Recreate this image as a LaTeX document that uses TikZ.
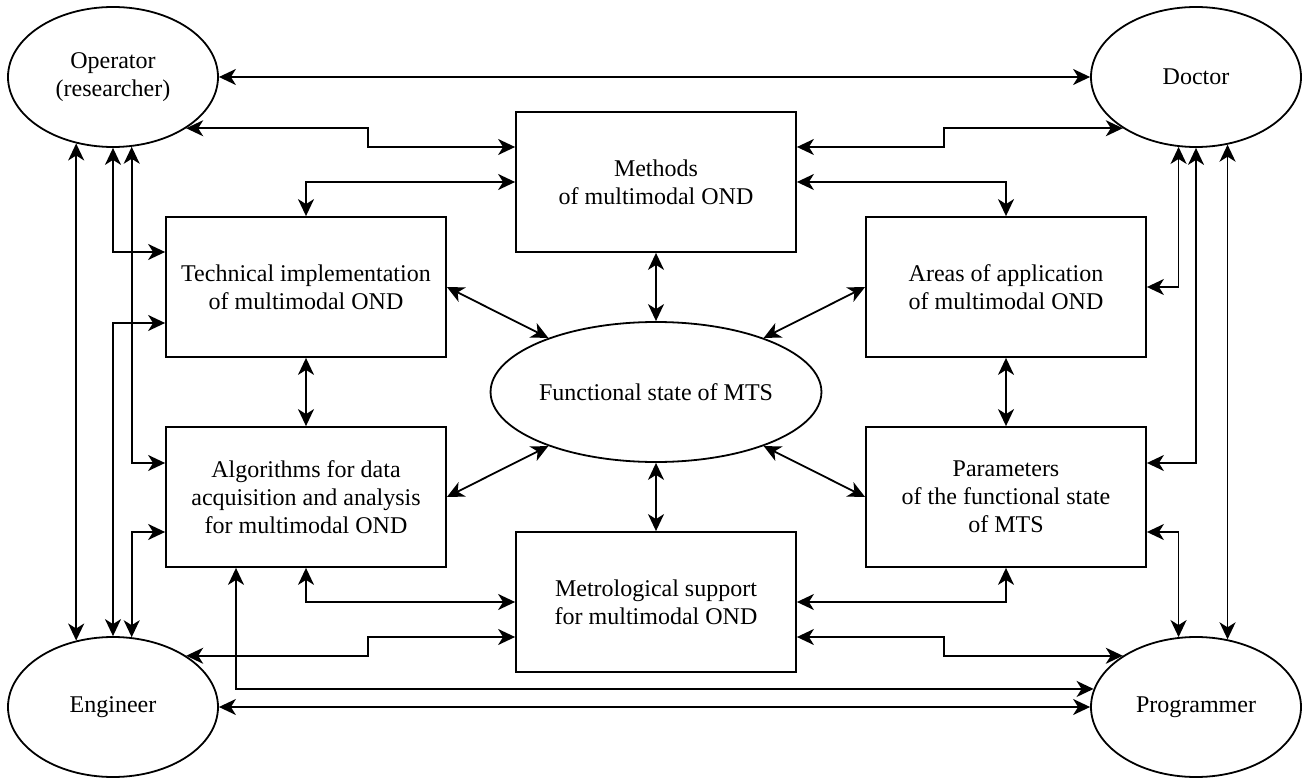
\documentclass[tikz,border=0pt]{standalone}
\usepackage{fontspec}
\setmainfont{Liberation Serif}
\usetikzlibrary{arrows.meta,shapes.geometric}
\begin{document}
\begin{tikzpicture}[x=1pt,y=-1pt,
  font=\fontsize{24}{28}\selectfont,
  line width=1.8pt,
  box/.style={draw, minimum width=280pt, minimum height=140pt, align=center, inner sep=0pt},
  oval/.style={draw, ellipse, minimum width=210pt, minimum height=140pt, align=center, inner sep=0pt},
  link/.style={{Stealth[length=17pt,width=16pt,inset=5pt]}-{Stealth[length=17pt,width=16pt,inset=5pt]}}]
\useasboundingbox (0,0) rectangle (1302,778);

% actors
\node[oval] (op)   at (113,77)   {Operator\\(researcher)};
\node[oval] (doc)  at (1196,77)  {Doctor};
\node[oval] (eng)  at (113,707)  {Engineer};
\node[oval] (prog) at (1196,707) {Programmer};

% blocks
\node[box] (mth)   at (656,182) {Methods\\of multimodal OND};
\node[box] (tech)  at (306,287) {Technical implementation\\of multimodal OND};
\node[box] (alg)   at (306,497) {Algorithms for data\\acquisition and analysis\\for multimodal OND};
\node[box] (areas) at (1006,287) {Areas of application\\of multimodal OND};
\node[box] (par)   at (1006,497) {Parameters\\of the functional state\\of MTS};
\node[box] (met)   at (656,602) {Metrological support\\for multimodal OND};
\node[draw, ellipse, minimum width=280pt, minimum height=140pt, inner sep=0pt] (func) at (656,392) {Functional state of MTS};

% top / bottom direct links
\draw[link] (op.east) -- (doc.west);
\draw[link] (eng.east) -- (prog.west);
\draw[link] (op.-119) -- (eng.119);
\draw[link] (doc.-65) -- (prog.65);

% operator side
\draw[link] (op.-35) -| (368,147) -- ([yshift=35pt]mth.west);
\draw[link] (mth.west) -| (tech.north);
\draw[link] (op.south) |- ([yshift=35pt]tech.west);
\draw[link] (op.-75) |- ([yshift=34pt]alg.west);

% engineer side
\draw[link] (eng.north) |- ([yshift=-36pt]tech.west);
\draw[link] (eng.75) |- ([yshift=-35pt]alg.west);
\draw[link] (eng.35) -| (368,637) -- ([yshift=-35pt]met.west);
\draw[link] (alg.south) |- (met.west);
\draw[link] ([xshift=-70pt]alg.south) |- (prog.170);

% doctor side
\draw[link] ([yshift=35pt]mth.east) -| (944,0 |- doc.215) -- (doc.215);
\draw[link] (mth.east) -| (areas.north);
\draw[link] (doc.-104) |- (areas.east);
\draw[link] (doc.south) |- ([yshift=34pt]par.east);

% programmer side
\draw[link] ([yshift=-35pt]par.east) -| (prog.104);
\draw[link] (met.east) -| (par.south);
\draw[link] ([yshift=-35pt]met.east) -| (944,0 |- prog.145) -- (prog.145);

% centre
\draw[link] (mth.south) -- (func.north);
\draw[link] (func.south) -- (met.north);
\draw[link] (tech.south) -- (alg.north);
\draw[link] (areas.south) -- (par.north);
\draw[link] (tech.east) -- (func);
\draw[link] (alg.east) -- (func);
\draw[link] (areas.west) -- (func);
\draw[link] (par.west) -- (func);
\end{tikzpicture}
\end{document}
